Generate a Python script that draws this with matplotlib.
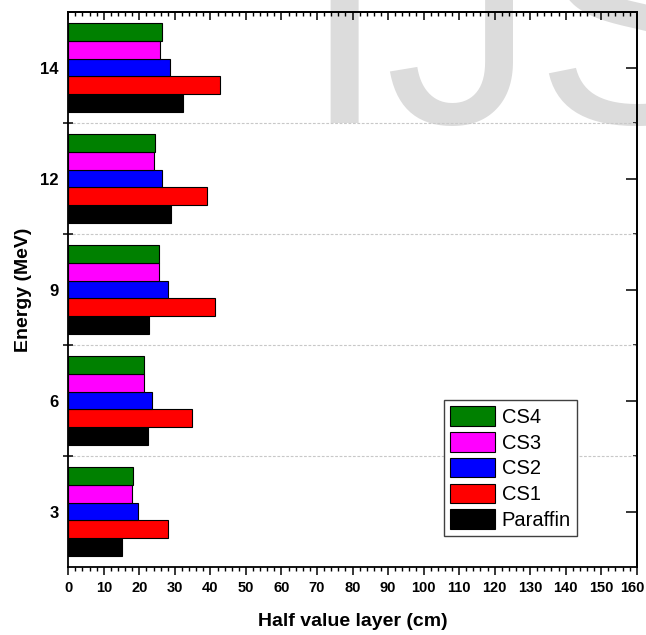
import numpy as np
import matplotlib.pyplot as plt
from matplotlib.ticker import MultipleLocator, FixedLocator, FuncFormatter

plt.rcParams['font.family'] = ['Liberation Sans', 'DejaVu Sans']

energies = ['3', '6', '9', '12', '14']
series = ['Paraffin', 'CS1', 'CS2', 'CS3', 'CS4']
colors = ['#000000', '#ff0000', '#0000ff', '#ff00ff', '#008000']

# half value layer (cm) per energy, one list per material
paraffin = [15.1, 22.3, 22.7, 28.8, 32.2]
cs1 = [28.0, 34.8, 41.4, 39.0, 42.7]
cs2 = [19.5, 23.7, 28.1, 26.5, 28.5]
cs3 = [17.9, 21.2, 25.5, 24.1, 25.7]
cs4 = [18.3, 21.2, 25.5, 24.4, 26.3]
values = [paraffin, cs1, cs2, cs3, cs4]

xmax = 160

fig = plt.figure(figsize=(6.46, 6.35), dpi=100)
ax = fig.add_axes([0.1057, 0.107, 0.88, 0.874])
ax.patch.set_alpha(0)

# faint journal watermark behind the plot
fig.text(0.4675, 0.806, 'IJS', fontsize=216, color='#dcdcdc',
         family='Liberation Sans', ha='left', va='baseline', zorder=-1)

pos = np.arange(len(energies))
h = 0.16
for i, (name, vals, c) in enumerate(zip(series, values, colors)):
    ax.barh(pos + (i - 2) * h, vals, height=h, color=c, edgecolor='black',
            linewidth=0.8, label=name, zorder=3)

for b in pos[:-1] + 0.5:
    ax.axhline(b, color='#c8c8c8', lw=0.8, ls=(0, (2.5, 1.5)), zorder=1)

ax.set_xlim(0, xmax)
ax.set_ylim(-0.5, 4.5)

ax.xaxis.set_major_locator(MultipleLocator(10))
ax.xaxis.set_minor_locator(MultipleLocator(2))
# the last label is placed separately so it stays inside the figure
ax.xaxis.set_major_formatter(FuncFormatter(lambda v, p: '' if v >= xmax else f'{v:g}'))
ax.tick_params(axis='x', which='major', direction='out', length=6, width=1.1,
               labelsize=10.5, pad=4)
ax.tick_params(axis='x', which='minor', direction='out', length=3, width=1)
ax.annotate(f'{xmax}', xy=(xmax, 0), xycoords=('data', 'axes fraction'),
            xytext=(-3, -10), textcoords='offset points', ha='center', va='top',
            fontsize=10.5, fontweight='bold')

ax.set_yticks(pos)
ax.set_yticklabels(energies)
ax.yaxis.set_minor_locator(FixedLocator(pos[:-1] + 0.5))
ax.tick_params(axis='y', which='major', length=0, labelsize=12, pad=7)
ax.tick_params(axis='y', which='minor', direction='inout', length=7, width=1.1)

for lab in ax.get_xticklabels() + ax.get_yticklabels():
    lab.set_fontweight('bold')

top = ax.secondary_xaxis('top')
top.xaxis.set_major_locator(MultipleLocator(10))
top.xaxis.set_minor_locator(MultipleLocator(2))
top.tick_params(which='major', direction='in', length=6, width=1.1, labeltop=False)
top.tick_params(which='minor', direction='in', length=3, width=1)

right = ax.secondary_yaxis('right')
right.set_yticks(pos)
right.yaxis.set_minor_locator(FixedLocator(pos[:-1] + 0.5))
right.tick_params(which='major', direction='in', length=8, width=1.1, labelright=False)
right.tick_params(which='minor', direction='in', length=3, width=1.1)

for sp in list(ax.spines.values()) + [top.spines['top'], right.spines['right']]:
    sp.set_linewidth(1.3)

ax.set_xlabel('Half value layer (cm)', fontsize=14, fontweight='bold', labelpad=13)
ax.set_ylabel('Energy (MeV)', fontsize=14, fontweight='bold', labelpad=6)

handles, labels = ax.get_legend_handles_labels()
leg = ax.legend(handles[::-1], labels[::-1], loc='lower left',
                bbox_to_anchor=(0.661, 0.056), fontsize=14.5, frameon=True,
                fancybox=False, edgecolor='#404040', framealpha=1,
                handlelength=2.24, handleheight=1.1, labelspacing=0.26,
                handletextpad=0.33, borderpad=0.3, borderaxespad=0)
leg.get_frame().set_linewidth(1.0)

fig.savefig('out.png', dpi=100)
